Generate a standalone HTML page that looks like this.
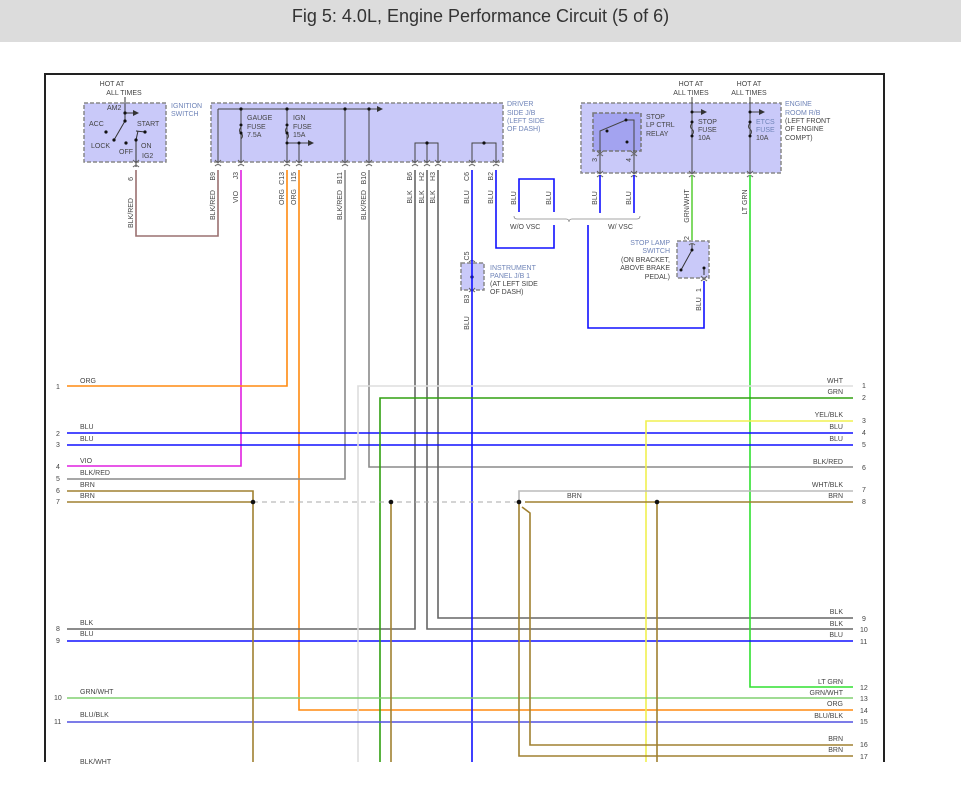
<!DOCTYPE html>
<html><head><meta charset="utf-8"><style>
html,body{margin:0;padding:0;background:#fff;}
body{width:961px;height:791px;overflow:hidden;position:relative;font-family:"Liberation Sans",sans-serif;}
.hdr{position:absolute;left:0;top:0;width:961px;height:42px;background:#dcdcdc;text-align:center;line-height:32px;font-size:18px;color:#333;}
svg{position:absolute;left:0;top:0;}
text{font-family:"Liberation Sans",sans-serif;font-size:7px;fill:#444;}
.c{fill:#6f84b8;}
</style></head><body>
<div class="hdr">Fig 5: 4.0L, Engine Performance Circuit (5 of 6)</div>
<svg width="961" height="791" viewBox="0 0 961 791">
<defs>
<marker id="ar" markerWidth="6" markerHeight="6" refX="5" refY="3" orient="auto"><path d="M0,0 L6,3 L0,6 z" fill="#333"/></marker>
</defs>
<!-- frame -->
<path d="M45,762 V74 H884 V762" fill="none" stroke="#222" stroke-width="2"/>

<!-- boxes -->
<g fill="#c9c9f9" stroke="#888" stroke-width="1.5" stroke-dasharray="4,2">
<rect x="84" y="103" width="82" height="59"/>
<rect x="211" y="103" width="292" height="59"/>
<rect x="581" y="103" width="200" height="70"/>
<rect x="461" y="263" width="23" height="27"/>
<rect x="677" y="241" width="32" height="37"/>
</g>
<rect x="593" y="113" width="48" height="38" fill="#a3a3f0" stroke="#777" stroke-width="1.5" stroke-dasharray="4,2"/>

<!-- top labels -->
<text x="112" y="86" text-anchor="middle">HOT AT</text><text x="124" y="95" text-anchor="middle">ALL TIMES</text>
<text x="171" y="108" class="c">IGNITION</text><text x="171" y="116" class="c">SWITCH</text>
<text x="507" y="106" class="c">DRIVER</text><text x="507" y="115" class="c">SIDE J/B</text><text x="507" y="123" class="c">(LEFT SIDE</text><text x="507" y="131" class="c">OF DASH)</text>
<text x="691" y="86" text-anchor="middle">HOT AT</text><text x="691" y="95" text-anchor="middle">ALL TIMES</text>
<text x="749" y="86" text-anchor="middle">HOT AT</text><text x="749" y="95" text-anchor="middle">ALL TIMES</text>
<text x="785" y="106" class="c">ENGINE</text><text x="785" y="115" class="c">ROOM R/B</text><text x="785" y="123">(LEFT FRONT</text><text x="785" y="131">OF ENGINE</text><text x="785" y="140">COMPT)</text>
<text x="490" y="270" class="c">INSTRUMENT</text><text x="490" y="278" class="c">PANEL J/B 1</text><text x="490" y="286">(AT LEFT SIDE</text><text x="490" y="294">OF DASH)</text>
<text x="670" y="245" text-anchor="end" class="c">STOP LAMP</text><text x="670" y="253" text-anchor="end" class="c">SWITCH</text><text x="670" y="262" text-anchor="end">(ON BRACKET,</text><text x="670" y="270" text-anchor="end">ABOVE BRAKE</text><text x="670" y="279" text-anchor="end">PEDAL)</text>

<!-- ignition switch internals -->
<g stroke="#333" stroke-width="1" fill="none">
<line x1="125" y1="97" x2="125" y2="113"/><line x1="125" y1="113" x2="138" y2="113" marker-end="url(#ar)"/>
<line x1="125" y1="113" x2="125" y2="121"/><line x1="125" y1="121" x2="114" y2="140"/>
<line x1="136" y1="131" x2="137" y2="131"/><line x1="138" y1="131" x2="136" y2="140"/><line x1="136" y1="140" x2="136" y2="167"/>
<line x1="136" y1="131" x2="145" y2="132"/>
</g>
<g fill="#111"><circle cx="125" cy="113" r="1.6"/><circle cx="125" cy="121" r="1.6"/><circle cx="106" cy="132" r="1.6"/><circle cx="114" cy="140" r="1.6"/><circle cx="126" cy="143" r="1.6"/><circle cx="145" cy="132" r="1.6"/><circle cx="136" cy="140" r="1.6"/></g>
<text x="107" y="110">AM2</text><text x="89" y="126">ACC</text><text x="137" y="126">START</text><text x="91" y="148">LOCK</text><text x="119" y="154">OFF</text><text x="141" y="148">ON</text><text x="142" y="158">IG2</text>

<!-- driver JB internals -->
<g stroke="#444" stroke-width="1" fill="none">
<line x1="218" y1="109" x2="382" y2="109" marker-end="url(#ar)"/>
<line x1="218" y1="109" x2="218" y2="162"/><line x1="241" y1="109" x2="241" y2="162"/><line x1="287" y1="109" x2="287" y2="162"/>
<line x1="345" y1="109" x2="345" y2="162"/><line x1="369" y1="109" x2="369" y2="162"/>
<line x1="287" y1="143" x2="313" y2="143" marker-end="url(#ar)"/><line x1="299" y1="143" x2="299" y2="162"/>
<path d="M415,162 V143 H438 V162 M427,143 V162"/>
<path d="M472,162 V143 H496 V162"/>
</g>
<g fill="none" stroke="#444"><path d="M241,127 q-3,4 0,6 q3,3 0,6"/><path d="M287,127 q-3,4 0,6 q3,3 0,6"/></g>
<g fill="#111"><circle cx="241" cy="109" r="1.6"/><circle cx="287" cy="109" r="1.6"/><circle cx="345" cy="109" r="1.6"/><circle cx="369" cy="109" r="1.6"/><circle cx="241" cy="125" r="1.5"/><circle cx="241" cy="133" r="1.5"/><circle cx="287" cy="125" r="1.5"/><circle cx="287" cy="133" r="1.5"/><circle cx="287" cy="143" r="1.5"/><circle cx="299" cy="143" r="1.5"/><circle cx="427" cy="143" r="1.6"/><circle cx="484" cy="143" r="1.6"/></g>
<text x="247" y="120">GAUGE</text><text x="247" y="129">FUSE</text><text x="247" y="137">7.5A</text>
<text x="293" y="120">IGN</text><text x="293" y="129">FUSE</text><text x="293" y="137">15A</text>

<!-- engine room internals -->
<g stroke="#444" stroke-width="1" fill="none">
<line x1="692" y1="97" x2="692" y2="173"/><line x1="692" y1="112" x2="706" y2="112" marker-end="url(#ar)"/>
<line x1="750" y1="97" x2="750" y2="173"/><line x1="750" y1="112" x2="764" y2="112" marker-end="url(#ar)"/>
<path d="M692,123 q-3,4 0,6 q3,3 0,6 M750,123 q-3,4 0,6 q3,3 0,6"/>
<path d="M600,173 V131 L626,120 L634,120 V173"/>
</g>
<g fill="#111"><circle cx="692" cy="112" r="1.5"/><circle cx="692" cy="122" r="1.5"/><circle cx="692" cy="136" r="1.5"/><circle cx="750" cy="112" r="1.5"/><circle cx="750" cy="122" r="1.5"/><circle cx="750" cy="136" r="1.5"/><circle cx="607" cy="131" r="1.5"/><circle cx="626" cy="120" r="1.5"/><circle cx="627" cy="142" r="1.5"/></g>
<text x="646" y="119">STOP</text><text x="646" y="127">LP CTRL</text><text x="646" y="136">RELAY</text>
<text x="698" y="124">STOP</text><text x="698" y="132">FUSE</text><text x="698" y="140">10A</text>
<text x="756" y="124" class="c">ETCS</text><text x="756" y="132" class="c">FUSE</text><text x="756" y="140">10A</text>

<!-- stop lamp switch internal -->
<g stroke="#333" fill="none"><path d="M692,243 V250 L681,270 M704,267 V275"/></g>
<g fill="#111"><circle cx="692" cy="250" r="1.5"/><circle cx="681" cy="270" r="1.5"/><circle cx="704" cy="268" r="1.5"/></g>
<line x1="472" y1="264" x2="472" y2="290" stroke="#333"/><circle cx="472" cy="277" r="1.6" fill="#111"/>

<!-- connector chevrons -->
<g stroke="#666" fill="none" stroke-width="1">
<path d="M133,160 l3,3 l3,-3 M133,167 q3,-3 6,0"/>
<path d="M215,160 l3,3 l3,-3 M215,166 q3,-3 6,0 M238,160 l3,3 l3,-3 M238,166 q3,-3 6,0 M284,160 l3,3 l3,-3 M284,166 q3,-3 6,0 M296,160 l3,3 l3,-3 M296,166 q3,-3 6,0 M342,160 l3,3 l3,-3 M342,166 q3,-3 6,0 M366,160 l3,3 l3,-3 M366,166 q3,-3 6,0 M412,160 l3,3 l3,-3 M412,166 q3,-3 6,0 M424,160 l3,3 l3,-3 M424,166 q3,-3 6,0 M435,160 l3,3 l3,-3 M435,166 q3,-3 6,0 M469,160 l3,3 l3,-3 M469,166 q3,-3 6,0 M493,160 l3,3 l3,-3 M493,166 q3,-3 6,0"/>
<path d="M597,171 l3,3 l3,-3 M597,177 q3,-3 6,0 M631,171 l3,3 l3,-3 M631,177 q3,-3 6,0 M689,171 l3,3 l3,-3 M689,177 q3,-3 6,0 M747,171 l3,3 l3,-3 M747,177 q3,-3 6,0"/>
<path d="M597,151 l3,3 l3,-3 M597,156 q3,-3 6,0 M631,151 l3,3 l3,-3 M631,156 q3,-3 6,0"/>
<path d="M469,262 q3,-3 6,0 M469,288 l3,3 l3,-3 M469,292 q3,-3 6,0 M689,245 q3,-3 6,0 M701,276 l3,3 l3,-3 M701,281 q3,-3 6,0"/>
</g>

<!-- vertical connector/wire labels -->
<g>
<text transform="translate(133,177) rotate(-90)" text-anchor="end">6</text>
<text transform="translate(133,213) rotate(-90)" text-anchor="middle">BLK/RED</text>
<text transform="translate(215,172) rotate(-90)" text-anchor="end">B9</text>
<text transform="translate(215,205) rotate(-90)" text-anchor="middle">BLK/RED</text>
<text transform="translate(238,172) rotate(-90)" text-anchor="end">J3</text>
<text transform="translate(238,197) rotate(-90)" text-anchor="middle">VIO</text>
<text transform="translate(284,172) rotate(-90)" text-anchor="end">C13</text>
<text transform="translate(284,197) rotate(-90)" text-anchor="middle">ORG</text>
<text transform="translate(296,172) rotate(-90)" text-anchor="end">I15</text>
<text transform="translate(296,197) rotate(-90)" text-anchor="middle">ORG</text>
<text transform="translate(342,172) rotate(-90)" text-anchor="end">B11</text>
<text transform="translate(342,205) rotate(-90)" text-anchor="middle">BLK/RED</text>
<text transform="translate(366,172) rotate(-90)" text-anchor="end">B10</text>
<text transform="translate(366,205) rotate(-90)" text-anchor="middle">BLK/RED</text>
<text transform="translate(412,172) rotate(-90)" text-anchor="end">B6</text>
<text transform="translate(412,197) rotate(-90)" text-anchor="middle">BLK</text>
<text transform="translate(424,172) rotate(-90)" text-anchor="end">H2</text>
<text transform="translate(424,197) rotate(-90)" text-anchor="middle">BLK</text>
<text transform="translate(435,172) rotate(-90)" text-anchor="end">H3</text>
<text transform="translate(435,197) rotate(-90)" text-anchor="middle">BLK</text>
<text transform="translate(469,172) rotate(-90)" text-anchor="end">C6</text>
<text transform="translate(469,197) rotate(-90)" text-anchor="middle">BLU</text>
<text transform="translate(493,172) rotate(-90)" text-anchor="end">B2</text>
<text transform="translate(493,197) rotate(-90)" text-anchor="middle">BLU</text>
<text transform="translate(516,198) rotate(-90)" text-anchor="middle">BLU</text>
<text transform="translate(551,198) rotate(-90)" text-anchor="middle">BLU</text>
<text transform="translate(597,198) rotate(-90)" text-anchor="middle">BLU</text>
<text transform="translate(631,198) rotate(-90)" text-anchor="middle">BLU</text>
<text transform="translate(597,158) rotate(-90)" text-anchor="end">3</text>
<text transform="translate(631,158) rotate(-90)" text-anchor="end">4</text>
<text transform="translate(689,206) rotate(-90)" text-anchor="middle">GRN/WHT</text>
<text transform="translate(747,202) rotate(-90)" text-anchor="middle">LT GRN</text>
<text transform="translate(689,238) rotate(-90)" text-anchor="middle">2</text>
<text transform="translate(701,290) rotate(-90)" text-anchor="middle">1</text>
<text transform="translate(701,304) rotate(-90)" text-anchor="middle">BLU</text>
<text transform="translate(469,256) rotate(-90)" text-anchor="middle">C5</text>
<text transform="translate(469,299) rotate(-90)" text-anchor="middle">B3</text>
<text transform="translate(469,323) rotate(-90)" text-anchor="middle">BLU</text>
</g>
<!-- VSC brace -->
<path d="M514,216 q0,3 3,3 H566 q3,0 3,3 q0,-3 3,-3 H637 q3,0 3,-3" fill="none" stroke="#888" stroke-width="0.8"/>
<text x="510" y="229">W/O VSC</text><text x="608" y="229">W/ VSC</text>

<!-- wires -->
<g fill="none" stroke-width="1.6">
<path d="M136,170 V236 H218 V170" stroke="#9a7070"/>
<path d="M241,170 V466 H67" stroke="#e020e0"/>
<path d="M287,170 V386 H67" stroke="#ff8a10"/>
<path d="M299,170 V710 H853" stroke="#ff8a10"/>
<path d="M345,170 V479 H67" stroke="#8a8a8a"/>
<path d="M369,170 V467 H853" stroke="#8a8a8a"/>
<path d="M415,170 V629 H67" stroke="#666"/>
<path d="M427,170 V629 H853" stroke="#666"/>
<path d="M438,170 V618 H853" stroke="#666"/>
<path d="M472,170 V762" stroke="#1010ff"/>
<path d="M496,170 V248 H554 V225" stroke="#1010ff"/>
<path d="M519,212 V179 H554 V212" stroke="#1010ff"/>
<path d="M600,175 V213 M634,175 V213" stroke="#1010ff"/>
<path d="M588,225 V328 H704 V281" stroke="#1010ff"/>
<path d="M692,175 V240" stroke="#60d040"/>
<path d="M750,175 V687 H853" stroke="#30e030"/>
<path d="M67,433 H853 M67,445 H853 M67,641 H853" stroke="#1010ff"/>
<path d="M358,762 V386 H853" stroke="#ddd"/>
<path d="M380,762 V398 H853" stroke="#30a010"/>
<path d="M646,762 V421 H853" stroke="#f0f050"/>
<path d="M67,698 H853" stroke="#80d070"/>
<path d="M67,722 H853" stroke="#5050e0"/>
<path d="M519,502 V491 H853" stroke="#bbb"/>
<path d="M67,491 H253 V502 M67,502 H253 V762" stroke="#a08030"/>
<path d="M391,502 V762" stroke="#a08030"/>
<path d="M525,502 H853 M657,502 V762" stroke="#a08030"/>
<path d="M519,502 V756 H853 M522,507 L530,513 V745 H853" stroke="#a08030"/>
</g>
<path d="M253,502 H519" stroke="#aaa" stroke-dasharray="5,4" stroke-width="1"/>
<g fill="#111"><circle cx="253" cy="502" r="2.3"/><circle cx="391" cy="502" r="2.3"/><circle cx="519" cy="502" r="2.3"/><circle cx="657" cy="502" r="2.3"/></g>

<!-- left labels -->
<g>
<text x="56" y="389">1</text><text x="80" y="383">ORG</text>
<text x="56" y="436">2</text><text x="80" y="429">BLU</text>
<text x="56" y="447">3</text><text x="80" y="441">BLU</text>
<text x="56" y="469">4</text><text x="80" y="463">VIO</text>
<text x="56" y="481">5</text><text x="80" y="475">BLK/RED</text>
<text x="56" y="493">6</text><text x="80" y="487">BRN</text>
<text x="56" y="504">7</text><text x="80" y="498">BRN</text>
<text x="56" y="631">8</text><text x="80" y="625">BLK</text>
<text x="56" y="643">9</text><text x="80" y="636">BLU</text>
<text x="54" y="700">10</text><text x="80" y="694">GRN/WHT</text>
<text x="54" y="724">11</text><text x="80" y="717">BLU/BLK</text>
<text x="80" y="764">BLK/WHT</text>
<text x="567" y="498">BRN</text>
</g>
<!-- right labels -->
<g text-anchor="end">
<text x="843" y="383">WHT</text><text x="843" y="394">GRN</text><text x="843" y="417">YEL/BLK</text><text x="843" y="429">BLU</text><text x="843" y="441">BLU</text><text x="843" y="464">BLK/RED</text><text x="843" y="487">WHT/BLK</text><text x="843" y="498">BRN</text>
<text x="843" y="614">BLK</text><text x="843" y="626">BLK</text><text x="843" y="637">BLU</text><text x="843" y="684">LT GRN</text><text x="843" y="695">GRN/WHT</text><text x="843" y="706">ORG</text><text x="843" y="718">BLU/BLK</text><text x="843" y="741">BRN</text><text x="843" y="752">BRN</text>
</g>
<g>
<text x="862" y="388">1</text><text x="862" y="400">2</text><text x="862" y="423">3</text><text x="862" y="435">4</text><text x="862" y="447">5</text><text x="862" y="470">6</text><text x="862" y="492">7</text><text x="862" y="504">8</text>
<text x="862" y="621">9</text><text x="860" y="632">10</text><text x="860" y="644">11</text><text x="860" y="690">12</text><text x="860" y="701">13</text><text x="860" y="713">14</text><text x="860" y="724">15</text><text x="860" y="747">16</text><text x="860" y="759">17</text>
</g>
</svg>
</body></html>
